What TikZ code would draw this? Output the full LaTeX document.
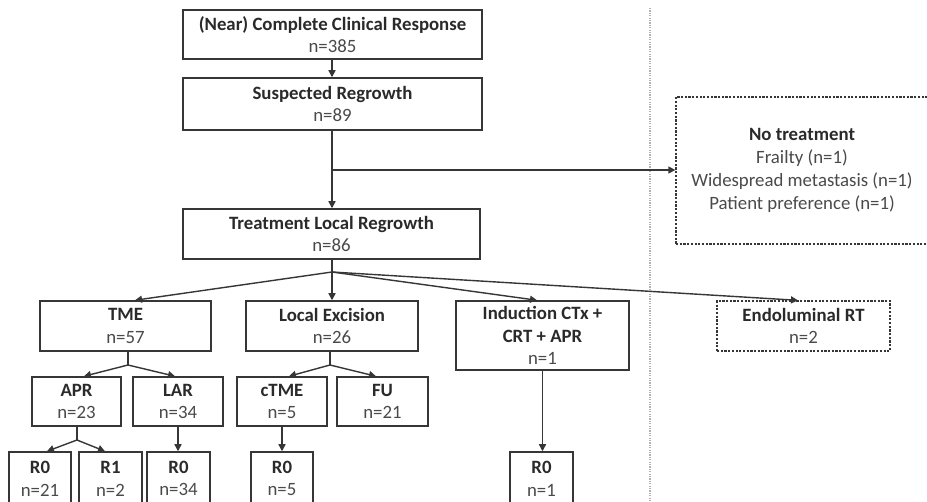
\documentclass[tikz,border=0pt]{standalone}
\usepackage{fontspec}
\setmainfont{Carlito}
\usetikzlibrary{arrows.meta,calc}
\definecolor{linec}{HTML}{363636}
\definecolor{titlec}{HTML}{2A2A2A}
\definecolor{numc}{HTML}{4A4A4A}
\begin{document}
\begin{tikzpicture}[x=1pt,y=-1pt,
  box/.style={draw=linec,line width=1.5pt,rectangle,inner sep=0pt,align=center,
    font=\fontsize{18.8}{22.8}\selectfont,text=numc},
  dbox/.style={box,draw=linec,dash pattern=on 2.2pt off 1.5pt,line width=1.3pt},
  conn/.style={draw=linec,line width=1.4pt},
  arr/.style={conn,-{Triangle[length=7pt,width=7pt]}}]
\useasboundingbox (0,0) rectangle (927,502);
\fill[white] (0,0) rectangle (927,502);
% separator
\coordinate (septop) at (650,8);
\coordinate (sepbot) at (650,502);
\draw[gray!60,line width=1.6pt,dash pattern=on 1.2pt off 1.2pt] (septop) -- (sepbot);
% nodes
\node[box,minimum width=299,minimum height=49] (top) at (332.5,34.5)
  {\textbf{\color{titlec}(Near) Complete Clinical Response}\\n=385};
\node[box,minimum width=299,minimum height=52] (sus) at (332.5,104)
  {\textbf{\color{titlec}Suspected Regrowth}\\n=89};
\node[box,minimum width=297,minimum height=50] (trt) at (331.5,234)
  {\textbf{\color{titlec}Treatment Local Regrowth}\\n=86};
\node[dbox,minimum width=252,minimum height=147] (notr) at (802,170.5)
  {\textbf{\color{titlec}No treatment}\\Frailty (n=1)\\Widespread metastasis (n=1)\\Patient preference (n=1)};
\node[box,minimum width=171,minimum height=50] (tme) at (125.5,326)
  {\textbf{\color{titlec}TME}\\n=57};
\node[box,minimum width=172,minimum height=50] (le) at (332,326)
  {\textbf{\color{titlec}Local Excision}\\n=26};
\node[box,minimum width=173,minimum height=69] (ind) at (542.5,335.5)
  {\textbf{\color{titlec}Induction CTx +}\\\textbf{\color{titlec}CRT + APR}\\n=1};
\node[dbox,minimum width=173,minimum height=50] (endo) at (803.5,326)
  {\textbf{\color{titlec}Endoluminal RT}\\n=2};
\node[box,minimum width=89,minimum height=49] (apr) at (76.5,401.5)
  {\textbf{\color{titlec}APR}\\n=23};
\node[box,minimum width=90,minimum height=49] (lar) at (178,401.5)
  {\textbf{\color{titlec}LAR}\\n=34};
\node[box,minimum width=90,minimum height=49] (ctme) at (282,401.5)
  {\textbf{\color{titlec}cTME}\\n=5};
\node[box,minimum width=91,minimum height=49] (fu) at (382.5,401.5)
  {\textbf{\color{titlec}FU}\\n=21};
\node[box,minimum width=62,minimum height=53] (r0a) at (40,478.5)
  {\textbf{\color{titlec}R0}\\n=21};
\node[box,minimum width=63,minimum height=53] (r1) at (110.5,478.5)
  {\textbf{\color{titlec}R1}\\n=2};
\node[box,minimum width=63,minimum height=53] (r0b) at (178.5,478.5)
  {\textbf{\color{titlec}R0}\\n=34};
\node[box,minimum width=62,minimum height=53] (r0c) at (282,478.5)
  {\textbf{\color{titlec}R0}\\n=5};
\node[box,minimum width=63,minimum height=53] (r0d) at (541.5,478.5)
  {\textbf{\color{titlec}R0}\\n=1};
% branch coordinates
\coordinate (b1) at (332,170);
\coordinate (f1) at (332,272);
\coordinate (f2) at (128,365);
\coordinate (f3) at (330,365);
\coordinate (f4) at (77,440);
% connectors
\draw[arr] (b1 |- top.south) -- (b1 |- sus.north);
\draw[arr] (b1 |- sus.south) -- (b1 |- trt.north);
\draw[arr] (b1) -- (notr.west |- b1);
\draw[conn] (f1 |- trt.south) -- (f1);
\draw[arr] (f1) -- ([xshift=9.5pt]tme.north);
\draw[arr] (f1) -- (f1 |- le.north);
\draw[arr] (f1) -- ([xshift=-5.5pt]ind.north);
\draw[arr] (f1) -- ([xshift=-5.5pt]endo.north);
\draw[conn] (f2 |- tme.south) -- (f2);
\draw[arr] (f2) -- ([xshift=7.5pt]apr.north);
\draw[arr] (f2) -- ([xshift=-3pt]lar.north);
\draw[conn] (f3 |- le.south) -- (f3);
\draw[arr] (f3) -- ([xshift=7pt]ctme.north);
\draw[arr] (f3) -- ([xshift=-6.5pt]fu.north);
\draw[conn] (f4 |- apr.south) -- (f4);
\draw[arr] (f4) -- ([xshift=7pt]r0a.north);
\draw[arr] (f4) -- ([xshift=-5.5pt]r1.north);
\draw[arr] (lar.south) -- (lar.south |- r0b.north);
\draw[arr] (ctme.south) -- (ctme.south |- r0c.north);
\draw[arr] (ind.south) -- (ind.south |- r0d.north);
\end{tikzpicture}
\end{document}
